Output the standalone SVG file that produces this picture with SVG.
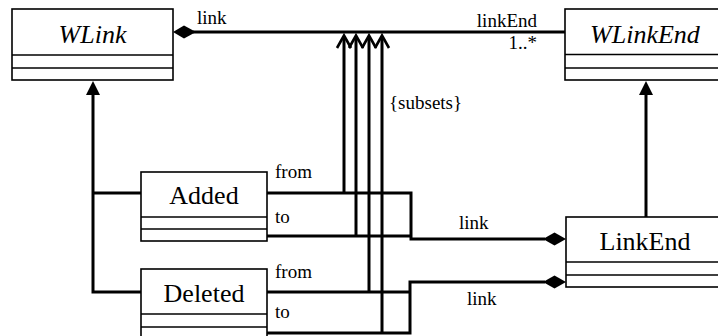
<svg xmlns="http://www.w3.org/2000/svg" width="718" height="336" viewBox="0 0 718 336">
<style>
.box{fill:#fff;stroke:#000;stroke-width:1.6}
.sep{stroke:#000;stroke-width:1.6}
text{fill:#000}
.cn{font-size:26px;text-anchor:middle}
.ab{font-style:italic}
.lb{font-size:19px}
.ln{fill:none;stroke:#000;stroke-width:3;stroke-linejoin:miter;stroke-linecap:butt}
.op{fill:none;stroke:#000;stroke-width:2.6;stroke-linejoin:miter}
.fl{fill:#000;stroke:none}
</style>
<rect width="718" height="336" fill="#fff"/>
<g id="connectors" font-family="Liberation Serif, Times New Roman, Times, Noto Serif, DejaVu Serif, serif">
  <line class="ln" x1="193" y1="32" x2="565" y2="32"/>
  <polygon class="fl" points="173,32 184,25.5 196,32 184,38.5"/>
  <polyline class="ln" points="93,94 93,292 141,292"/>
  <line class="ln" x1="93" y1="193" x2="141" y2="193"/>
  <polygon class="fl" points="93,81 86,95 100,95"/>
  <line class="ln" x1="646" y1="217" x2="646" y2="94"/>
  <polygon class="fl" points="646,81 639,95 653,95"/>
  <line class="ln" x1="344" y1="193" x2="344" y2="37"/>
  <line class="ln" x1="356" y1="236" x2="356" y2="37"/>
  <line class="ln" x1="369" y1="292" x2="369" y2="37"/>
  <line class="ln" x1="382" y1="333" x2="382" y2="37"/>
  <polyline class="op" points="337,48 344,35.5 351,48"/>
  <polyline class="op" points="349,48 356,35.5 363,48"/>
  <polyline class="op" points="362,48 369,35.5 376,48"/>
  <polyline class="op" points="375,48 382,35.5 389,48"/>
  <polyline class="ln" points="267,193 411,193 411,239 545,239"/>
  <line class="ln" x1="267" y1="236" x2="411" y2="236"/>
  <polygon class="fl" points="566,239 554.5,232.5 543,239 554.5,245.5"/>
  <polyline class="ln" points="267,292 410,292"/>
  <polyline class="ln" points="267,333 410,333 410,282 545,282"/>
  <polygon class="fl" points="566,282 554.5,275.5 543,282 554.5,288.5"/>
  <text class="lb" x="197" y="24">link</text>
  <text class="lb" x="537" y="26.5" text-anchor="end">linkEnd</text>
  <text class="lb" x="537" y="49" text-anchor="end">1..*</text>
  <text class="lb" x="389" y="109">{subsets}</text>
  <text class="lb" x="275" y="178">from</text>
  <text class="lb" x="275" y="223">to</text>
  <text class="lb" x="275" y="278">from</text>
  <text class="lb" x="275" y="318">to</text>
  <text class="lb" x="459" y="229">link</text>
  <text class="lb" x="467" y="305">link</text>
</g>
<g id="WLink" font-family="Liberation Serif, Times New Roman, Times, Noto Serif, DejaVu Serif, serif">
  <rect class="box" x="12" y="9" width="161" height="71"/>
  <line class="sep" x1="12" y1="55" x2="173" y2="55"/>
  <line class="sep" x1="12" y1="68" x2="173" y2="68"/>
  <text class="cn ab" x="92.5" y="43">WLink</text>
</g>
<g id="WLinkEnd" font-family="Liberation Serif, Times New Roman, Times, Noto Serif, DejaVu Serif, serif">
  <rect class="box" x="565" y="9" width="160" height="71"/>
  <line class="sep" x1="565" y1="54.5" x2="725" y2="54.5"/>
  <line class="sep" x1="565" y1="68" x2="725" y2="68"/>
  <text class="cn ab" x="645" y="43">WLinkEnd</text>
</g>
<g id="Added" font-family="Liberation Serif, Times New Roman, Times, Noto Serif, DejaVu Serif, serif">
  <rect class="box" x="141" y="172" width="126" height="69"/>
  <line class="sep" x1="141" y1="217" x2="267" y2="217"/>
  <line class="sep" x1="141" y1="229" x2="267" y2="229"/>
  <text class="cn" x="204" y="204">Added</text>
</g>
<g id="Deleted" font-family="Liberation Serif, Times New Roman, Times, Noto Serif, DejaVu Serif, serif">
  <rect class="box" x="141" y="269" width="126" height="69"/>
  <line class="sep" x1="141" y1="314" x2="267" y2="314"/>
  <line class="sep" x1="141" y1="327" x2="267" y2="327"/>
  <text class="cn" x="204" y="302">Deleted</text>
</g>
<g id="LinkEnd" font-family="Liberation Serif, Times New Roman, Times, Noto Serif, DejaVu Serif, serif">
  <rect class="box" x="566" y="217" width="160" height="70"/>
  <line class="sep" x1="566" y1="262" x2="726" y2="262"/>
  <line class="sep" x1="566" y1="275" x2="726" y2="275"/>
  <text class="cn" x="645" y="250">LinkEnd</text>
</g>
</svg>
